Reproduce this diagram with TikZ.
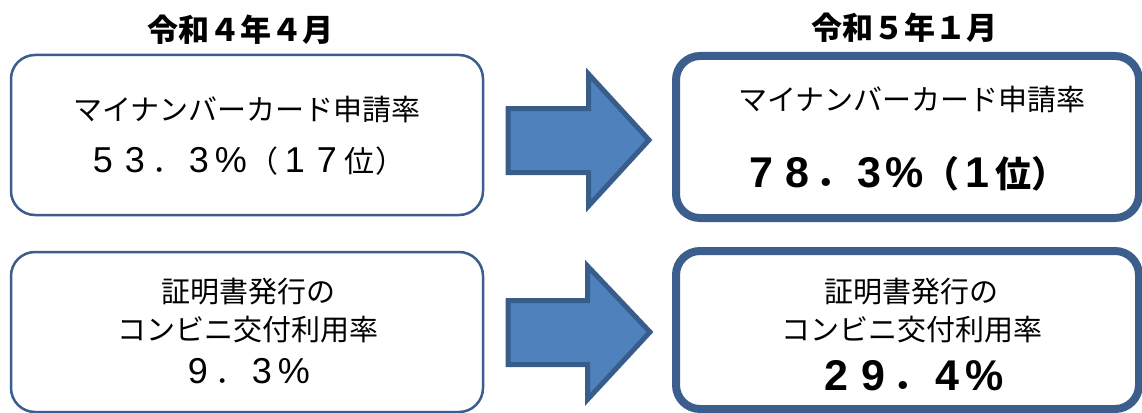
\documentclass[tikz,border=0pt]{standalone}
\usepackage{fontspec}
\setmainfont{Noto Sans CJK JP}
\newfontfamily\dig{Liberation Sans}
\definecolor{boxblue}{RGB}{60,94,140}
\definecolor{arrowline}{RGB}{56,93,138}
\definecolor{arrowfill}{RGB}{79,129,189}
% regular cells (digit / CJK)
\newcommand\rd[1]{\makebox[32pt][c]{\dig\fontsize{36}{40}\selectfont #1}}
\newcommand\rk[1]{\makebox[32pt][c]{\fontsize{30}{35}\selectfont #1}}
% bold cells
\newcommand\bd[2][36pt]{\makebox[#1][c]{\dig\bfseries\fontsize{43}{48}\selectfont #2}}
\newcommand\bk[2][36pt]{\makebox[#1][c]{\bfseries\fontsize{36}{40}\selectfont #2}}
\tikzset{
  thinbox/.style={draw=boxblue, line width=2.5pt, rounded corners=24pt, fill=white, inner sep=0pt},
  thickbox/.style={draw=boxblue, line width=8pt, rounded corners=24pt, fill=white, inner sep=0pt},
  bigarrow/.style={draw=arrowline, fill=arrowfill, line width=5pt, line join=miter},
  titletext/.style={font=\fontsize{31}{36}\selectfont\bfseries, inner sep=0pt},
  bodytext/.style={font=\fontsize{29}{34}\selectfont, inner sep=0pt},
  valtext/.style={inner sep=0pt, anchor=base}
}
\begin{document}
\begin{tikzpicture}[x=1pt, y=-1pt]
\useasboundingbox (0,0) rectangle (1142,412);
% titles
\node[titletext] (t1) at (240,30) {令和４年４月};
\node[titletext] (t2) at (904,28) {令和５年１月};
% boxes
\node[thinbox, minimum width=472pt, minimum height=160pt] (b1) at (247,135) {};
\node[thickbox, minimum width=463pt, minimum height=162pt] (b2) at (907.5,137) {};
\node[thinbox, minimum width=472pt, minimum height=160pt] (b3) at (247,332) {};
\node[thickbox, minimum width=463pt, minimum height=158pt] (b4) at (907.5,330) {};
% arrows
\draw[bigarrow] (508,108.5) -- (588.5,108.5) -- (588.5,74) -- (649,140) -- (588.5,206) -- (588.5,172.5) -- (508,172.5) -- cycle;
\draw[bigarrow] (508,300.5) -- (587.5,300.5) -- (587.5,266) -- (650,332) -- (587.5,399.5) -- (587.5,364.5) -- (508,364.5) -- cycle;
% texts top
\node[bodytext] (l1a) at (247,110) {マイナンバーカード申請率};
\node[valtext] (l1b) at (247,172) {\rd{5}\rd{3}\rk{．}\rd{3}\rd{\%}\rk{（}\rd{1}\rd{7}\rk{位}\rk{）}};
\node[bodytext] (r1a) at (912,100) {マイナンバーカード申請率};
\node[valtext] (r1b) at (905,187) {\bd{7}\bd{8}\bk{．}\bd{3}\bd{\%}\bk{（}\bd{1}\bk{位}\bk{）}};
% texts bottom
\node[bodytext] (l2a) at (248,292) {証明書発行の};
\node[bodytext] (l2b) at (248,330) {コンビニ交付利用率};
\node[valtext] (l2c) at (246,383) {\rd{9}\rk{．}\rd{3}\rd{\%}};
\node[bodytext] (r2a) at (911,292) {証明書発行の};
\node[bodytext] (r2b) at (912,330) {コンビニ交付利用率};
\node[valtext] (r2c) at (910.5,390) {\bd[37pt]{2}\bd[37pt]{9}\bk[37pt]{．}\bd[37pt]{4}\bd[37pt]{\%}};
\end{tikzpicture}
\end{document}
